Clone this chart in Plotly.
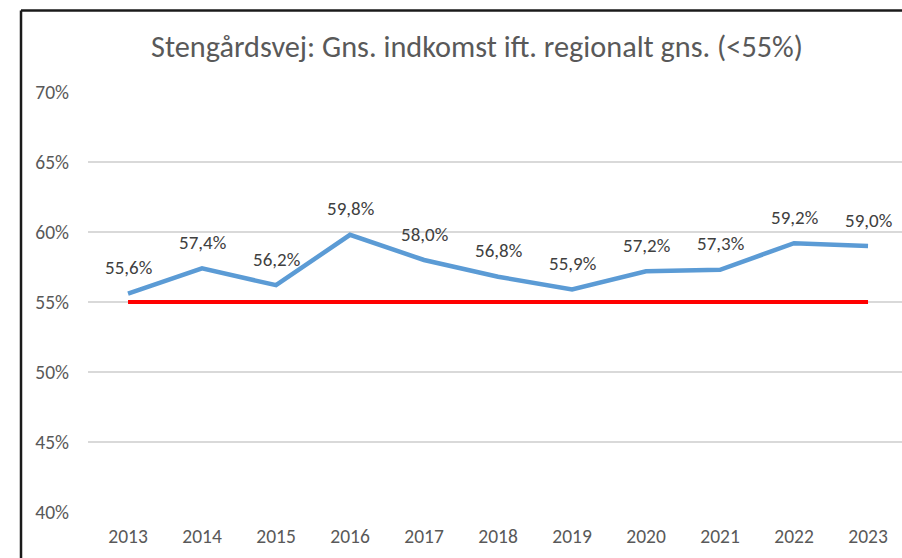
import plotly.graph_objects as go

years = [2013, 2014, 2015, 2016, 2017, 2018, 2019, 2020, 2021, 2022, 2023]
income_pct = [55.6, 57.4, 56.2, 59.8, 58.0, 56.8, 55.9, 57.2, 57.3, 59.2, 59.0]
threshold_pct = [55, 55, 55, 55, 55, 55, 55, 55, 55, 55, 55]
y_ticks = [40, 45, 50, 55, 60, 65, 70]
title_text = "Stengårdsvej: Gns. indkomst ift. regionalt gns. (<55%)"

FONT = "Carlito, Calibri, Lato, sans-serif"

fig = go.Figure()
fig.add_trace(go.Scatter(x=years, y=income_pct, mode="lines",
                         line=dict(color="#5B9BD5", width=4.5), hoverinfo="skip"))
fig.add_trace(go.Scatter(x=years, y=threshold_pct, mode="lines",
                         line=dict(color="#FF0000", width=4), hoverinfo="skip"))

for x, v in zip(years, income_pct):
    fig.add_annotation(x=x, y=v, text=f"{v:.1f}".replace(".", ",") + "%",
                       showarrow=False, yshift=26,
                       font=dict(family=FONT, size=19, color="#404040"))

# chart frame: only top and left edges are visible in the reference
frame = dict(color="#1a1a1a", width=2.5)
fig.add_shape(type="line", xref="paper", yref="paper",
              x0=-0.0823, x1=1.2, y0=1.194, y1=1.194, line=frame, layer="above")
fig.add_shape(type="line", xref="paper", yref="paper",
              x0=-0.0823, x1=-0.0823, y0=-0.4, y1=1.194, line=frame, layer="above")

fig.update_layout(
    width=902, height=558,
    margin=dict(l=88, r=0, t=92, b=46),
    paper_bgcolor="white", plot_bgcolor="white",
    showlegend=False,
    title=dict(text=title_text, x=0.5288, xanchor="center", y=0.916, yanchor="middle",
               font=dict(family=FONT, size=30.3, color="#595959")),
    xaxis=dict(range=[2012.459, 2023.459], tickvals=years, ticktext=[str(y) for y in years],
               showgrid=False, zeroline=False, showline=False,
               tickfont=dict(family=FONT, size=19.5, color="#595959"), ticks="",
               ticklabelstandoff=10),
    yaxis=dict(range=[40, 70], tickvals=y_ticks, ticktext=[f"{t}%" for t in y_ticks],
               showgrid=True, gridcolor="#D9D9D9", gridwidth=1.5, zeroline=False,
               tickfont=dict(family=FONT, size=19.5, color="#595959"), ticks="",
               ticklabelstandoff=18),
)

fig.write_html("out.html",
               config={"displayModeBar": False},
               post_script="document.documentElement.style.overflow='hidden';"
                           "document.body.style.margin='0';document.body.style.overflow='hidden';")
